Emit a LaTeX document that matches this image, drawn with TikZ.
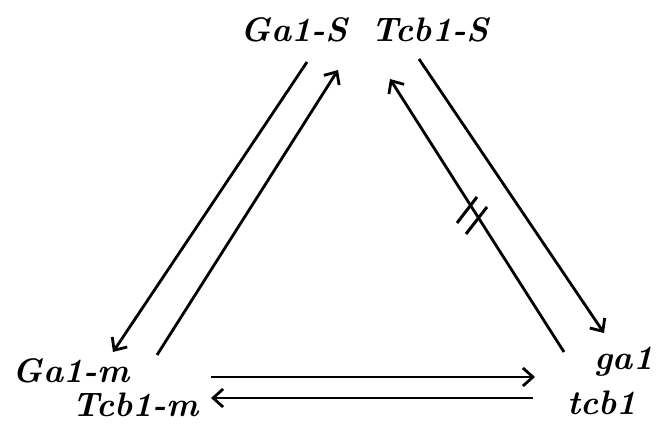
\documentclass[tikz,border=0pt]{standalone}
\usetikzlibrary{arrows.meta}
\begin{document}
\begin{tikzpicture}[x=1pt,y=-1pt,
  lbl/.style={anchor=base,inner sep=0pt,font=\fontsize{34}{38}\selectfont\bfseries\itshape},
  conn/.style={line width=2.8pt,-{Straight Barb[length=10pt,width=18pt,line width=2.8pt]}},
  tick/.style={line width=3pt}]
\useasboundingbox (0,0) rectangle (657,425);
% labels
\node[lbl] (GaS) at (294,42) {Ga1-S};
\node[lbl] (TcbS) at (430,42) {Tcb1-S};
\node[lbl] (Gam) at (71,382) {Ga1-m};
\node[lbl] (Tcbm) at (135.5,416) {Tcb1-m};
\node[lbl] (ga) at (624,370) {ga1};
\node[lbl] (tcb) at (602,414) {tcb1};
% connector end points
\coordinate (a1s) at (307,62);  \coordinate (a1e) at (113,352);
\coordinate (a2s) at (157,355); \coordinate (a2e) at (338,70);
\coordinate (a3s) at (419,59);  \coordinate (a3e) at (604,333);
\coordinate (a4s) at (564,352); \coordinate (a4e) at (390,79);
\coordinate (a5s) at (211,377); \coordinate (a5e) at (535,377);
\coordinate (a6s) at (533,398); \coordinate (a6e) at (211,398);
% connectors
\draw[conn] (a1s) -- (a1e);
\draw[conn] (a2s) -- (a2e);
\draw[conn] (a3s) -- (a3e);
\draw[conn] (a4s) -- (a4e);
\draw[conn] (a5s) -- (a5e);
\draw[conn] (a6s) -- (a6e);
% double bar on the tcb1 -> Tcb1-S arrow
\draw[tick] (457,223) -- (477,197);
\draw[tick] (466,234) -- (487,207);
\end{tikzpicture}
\end{document}
